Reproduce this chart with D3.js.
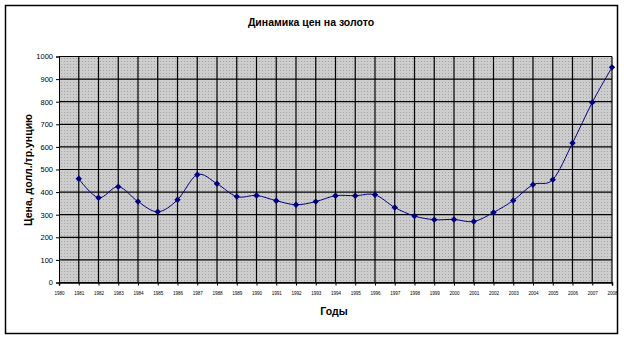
<!DOCTYPE html>
<html>
<head>
<meta charset="utf-8">
<script src="https://cdn.jsdelivr.net/npm/d3@7"></script>
<style>
  body { margin: 0; background: #fff; }
  text { font-family: Arial, "Liberation Sans", sans-serif; }
</style>
</head>
<body>
<svg id="chart" width="624" height="339"></svg>
<script>
  // data
  var years = [1981, 1982, 1983, 1984, 1985, 1986, 1987, 1988, 1989, 1990,
    1991, 1992, 1993, 1994, 1995, 1996, 1997, 1998, 1999, 2000,
    2001, 2002, 2003, 2004, 2005, 2006, 2007, 2008];
  var prices = [459, 375, 424, 358, 313, 366, 477, 437, 380, 385,
    362, 344, 358, 384, 384, 388, 332, 294, 278, 279,
    270, 310, 363, 433, 455, 617, 797, 952];
  var tickYears = d3.range(1980, 2009);
  var yTicks = [0, 100, 200, 300, 400, 500, 600, 700, 800, 900, 1000];

  var svg = d3.select("#chart");
  // plot box (note: "top" is reserved on window, so prefixed names)
  var plotLeft = 59, plotRight = 612, plotTop = 56.5, plotBottom = 282.5;

  var x = d3.scaleLinear().domain([1980, 2008]).range([plotLeft, plotRight]);
  var y = d3.scaleLinear().domain([0, 1000]).range([plotBottom, plotTop]);

  // outer frame
  svg.append("rect")
    .attr("x", 5.5).attr("y", 5.5)
    .attr("width", 612).attr("height", 328)
    .attr("fill", "#fff").attr("stroke", "#000").attr("stroke-width", 1.5);

  // dotted grey fill like excel pattern
  var defs = svg.append("defs");
  var pat = defs.append("pattern")
    .attr("id", "dots").attr("patternUnits", "userSpaceOnUse")
    .attr("width", 3).attr("height", 3);
  pat.append("rect").attr("width", 3).attr("height", 3).attr("fill", "#cdcdcd");
  pat.append("rect").attr("x", 1).attr("y", 1).attr("width", 1).attr("height", 1).attr("fill", "#a4a4a4");

  svg.append("rect")
    .attr("x", plotLeft).attr("y", plotTop)
    .attr("width", plotRight - plotLeft).attr("height", plotBottom - plotTop)
    .attr("fill", "url(#dots)");

  // grid
  svg.append("g").selectAll("line").data(yTicks).enter().append("line")
    .attr("x1", plotLeft).attr("x2", plotRight)
    .attr("y1", function (d) { return y(d); }).attr("y2", function (d) { return y(d); })
    .attr("stroke", "#000").attr("stroke-width", 1.2);
  svg.append("g").selectAll("line").data(tickYears.slice(1)).enter().append("line")
    .attr("x1", function (d) { return x(d); }).attr("x2", function (d) { return x(d); })
    .attr("y1", plotTop).attr("y2", plotBottom)
    .attr("stroke", "#000").attr("stroke-width", 1.2);

  // axes
  var yAxis = svg.append("g")
    .attr("transform", "translate(" + plotLeft + ",0)")
    .call(d3.axisLeft(y).tickValues(yTicks).tickFormat(d3.format("d")).tickSize(3).tickPadding(3));
  yAxis.selectAll("text").attr("font-size", 7.5).attr("fill", "#000");
  yAxis.selectAll("line, path").attr("stroke", "#000");

  var xAxis = svg.append("g")
    .attr("transform", "translate(0," + plotBottom + ")")
    .call(d3.axisBottom(x).tickValues(tickYears).tickFormat(d3.format("d")).tickSize(3).tickPadding(6));
  xAxis.selectAll("text").attr("font-size", 4.6).attr("fill", "#000");
  xAxis.selectAll("line").attr("stroke", "#000");
  xAxis.select("path").attr("stroke", "#000").attr("stroke-width", 1.5);

  // series, smoothed like excel
  var pts = years.map(function (d, i) { return [x(d), y(prices[i])]; });
  svg.append("path")
    .attr("d", d3.line().curve(d3.curveCardinal.tension(0))(pts))
    .attr("fill", "none").attr("stroke", "#000080").attr("stroke-width", 1);

  svg.append("g").selectAll("path").data(pts).enter().append("path")
    .attr("d", d3.symbol().type(d3.symbolDiamond2).size(26))
    .attr("transform", function (d) { return "translate(" + d[0] + "," + d[1] + ")"; })
    .attr("fill", "#000080");

  // titles
  svg.append("text").attr("x", 311).attr("y", 26)
    .attr("text-anchor", "middle").attr("font-size", 10.5).attr("font-weight", "bold")
    .text("Динамика цен на золото");
  svg.append("text").attr("x", 334).attr("y", 315)
    .attr("text-anchor", "middle").attr("font-size", 10.5).attr("font-weight", "bold")
    .text("Годы");
  svg.append("text")
    .attr("transform", "translate(32,170) rotate(-90)")
    .attr("text-anchor", "middle").attr("font-size", 10.5).attr("font-weight", "bold")
    .text("Цена, долл./тр.унцию");
</script>
</body>
</html>
